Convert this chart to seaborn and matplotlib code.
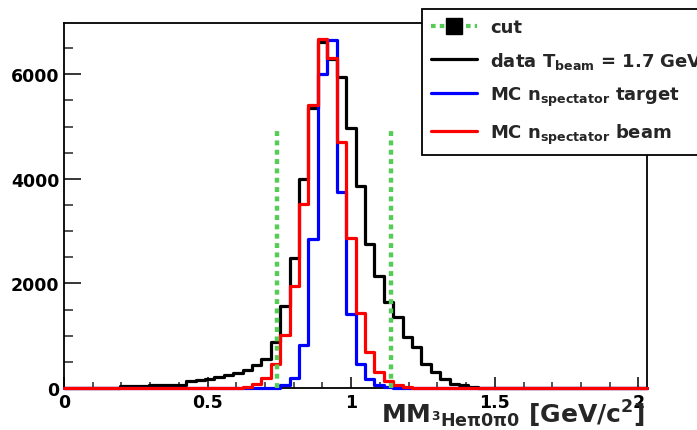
import numpy as np
import pandas as pd
import matplotlib
matplotlib.use("Agg")
import matplotlib.pyplot as plt
from matplotlib.lines import Line2D
from matplotlib.ticker import MultipleLocator, FixedLocator
import seaborn as sns

# ---------------- data ----------------
x_min, x_max, n_bins = 0.0, 2.03, 62

data_counts = [0, 0, 0, 0, 0, 0, 35, 40, 45, 50, 55, 60, 64, 127, 147, 178, 210, 242,
               293, 338, 446, 561, 880, 1573, 2480, 3996, 5348, 6610, 6300, 5950,
               4971, 3868, 2753, 2147, 1638, 1352, 970, 778, 459, 300, 172, 76, 57, 20,
               0, 0, 0, 0, 0, 0, 0, 0, 0, 0, 0, 0, 0, 0, 0, 0, 0, 0]
mc_target_counts = [0] * 22 + [5, 50, 195, 830, 2849, 6004, 6660, 3741, 1415, 459,
                               172, 57, 15] + [0] * 27
mc_beam_counts = [0] * 19 + [15, 70, 190, 460, 1010, 1945, 3518, 5411, 6673, 6304,
                             4709, 2865, 1430, 682, 315, 130, 57, 20] + [0] * 25

cut_positions = [0.74, 1.14]
cut_height = 5000

legend_labels = ["cut",
                 r"data T$_{beam}$ = 1.7 GeV",
                 r"MC n$_{spectator}$ target",
                 r"MC n$_{spectator}$ beam"]
x_label = "MM$_{^{3}He\u03c00\u03c00}$ [GeV/c$^{2}$]"
y_ticks = [0, 2000, 4000, 6000]
x_ticks = [0, 0.5, 1, 1.5, 2]
x_tick_labels = ["0", "0.5", "1", "1.5", "2"]

# ---------------- style ----------------
sns.set_theme(style="white")
plt.rcParams["font.family"] = ["DejaVu Sans"]
plt.rcParams["font.weight"] = "bold"
plt.rcParams["mathtext.fontset"] = "custom"
plt.rcParams["mathtext.default"] = "bf"
plt.rcParams["mathtext.bf"] = "DejaVu Sans:bold"
plt.rcParams["mathtext.rm"] = "DejaVu Sans:bold"
plt.rcParams["mathtext.it"] = "DejaVu Sans:bold"

edges = list(np.linspace(x_min, x_max, n_bins + 1))
centers = [0.5 * (edges[i] + edges[i + 1]) for i in range(n_bins)]
df = pd.DataFrame({
    "x": np.tile(centers, 3),
    "count": np.concatenate([data_counts, mc_target_counts, mc_beam_counts]),
    "series": ["data"] * n_bins + ["target"] * n_bins + ["beam"] * n_bins,
})

fig = plt.figure(figsize=(6.97, 4.31), dpi=100)
ax = fig.add_axes([64 / 697, 42 / 431, 583 / 697, 365 / 431])

colors = {"data": "black", "target": "#0000ff", "beam": "#ff0000"}
for s in ["data", "target", "beam"]:
    sub = df[df["series"] == s]
    sns.histplot(data=sub, x="x", weights="count", bins=edges, element="step",
                 fill=False, color=colors[s], linewidth=2.3, ax=ax,
                 zorder=3, clip_on=False)

green = "#55cc55"
ax.vlines(cut_positions, 0, cut_height, colors=green, linewidth=3.2,
          linestyles=[(0, (1.1, 1.0))], zorder=5)

ax.set_xlim(x_min, x_max)
ax.set_ylim(0, 6980)
ax.set_ylabel("")

ax.xaxis.set_major_locator(FixedLocator(x_ticks))
ax.set_xticklabels(x_tick_labels)
ax.xaxis.set_minor_locator(MultipleLocator(0.1))
ax.yaxis.set_major_locator(FixedLocator(y_ticks))
ax.set_yticklabels([str(v) for v in y_ticks])
ax.yaxis.set_minor_locator(MultipleLocator(500))

ax.tick_params(axis="x", which="major", direction="in", length=8, width=1.1,
               labelsize=12.5, pad=3.5, bottom=True, top=False, colors="black")
ax.tick_params(axis="x", which="minor", direction="in", length=4, width=1.1,
               bottom=True, top=False)
ax.tick_params(axis="y", which="major", direction="in", length=12.5, width=1.1,
               labelsize=12.5, pad=3.5, left=True, right=False, colors="black")
ax.tick_params(axis="y", which="minor", direction="in", length=6.3, width=1.1,
               left=True, right=False)
for lab in ax.get_xticklabels() + ax.get_yticklabels():
    lab.set_fontweight("bold")

for sp in ax.spines.values():
    sp.set_visible(True)
    sp.set_color("black")
    sp.set_linewidth(1.3)
    sp.set_zorder(2.5)

ax.set_xlabel(x_label, fontsize=18, fontweight="bold", ha="right", va="baseline")
ax.xaxis.set_label_coords((645 - 64) / 583, (389 - 423) / 365)

handles = [
    Line2D([], [], color=green, linewidth=3.0, linestyle=(0, (1.1, 1.0)),
           marker="s", markersize=11, markerfacecolor="black", markeredgecolor="black"),
    Line2D([], [], color="black", linewidth=2.3),
    Line2D([], [], color="#0000ff", linewidth=2.3),
    Line2D([], [], color="#ff0000", linewidth=2.3),
]
leg = ax.legend(handles, legend_labels, loc="upper left",
                bbox_to_anchor=(421.5 / 697, 1 - 10 / 431),
                bbox_transform=fig.transFigure, borderaxespad=0,
                frameon=True, fancybox=False, shadow=False, framealpha=1,
                edgecolor="black", prop={"size": 13, "weight": "bold"},
                handlelength=2.6, handletextpad=0.7, labelspacing=0.76,
                borderpad=0.5, numpoints=1)
leg.get_frame().set_linewidth(1.3)
leg.set_zorder(10)

fig.savefig("out.png", dpi=100)
